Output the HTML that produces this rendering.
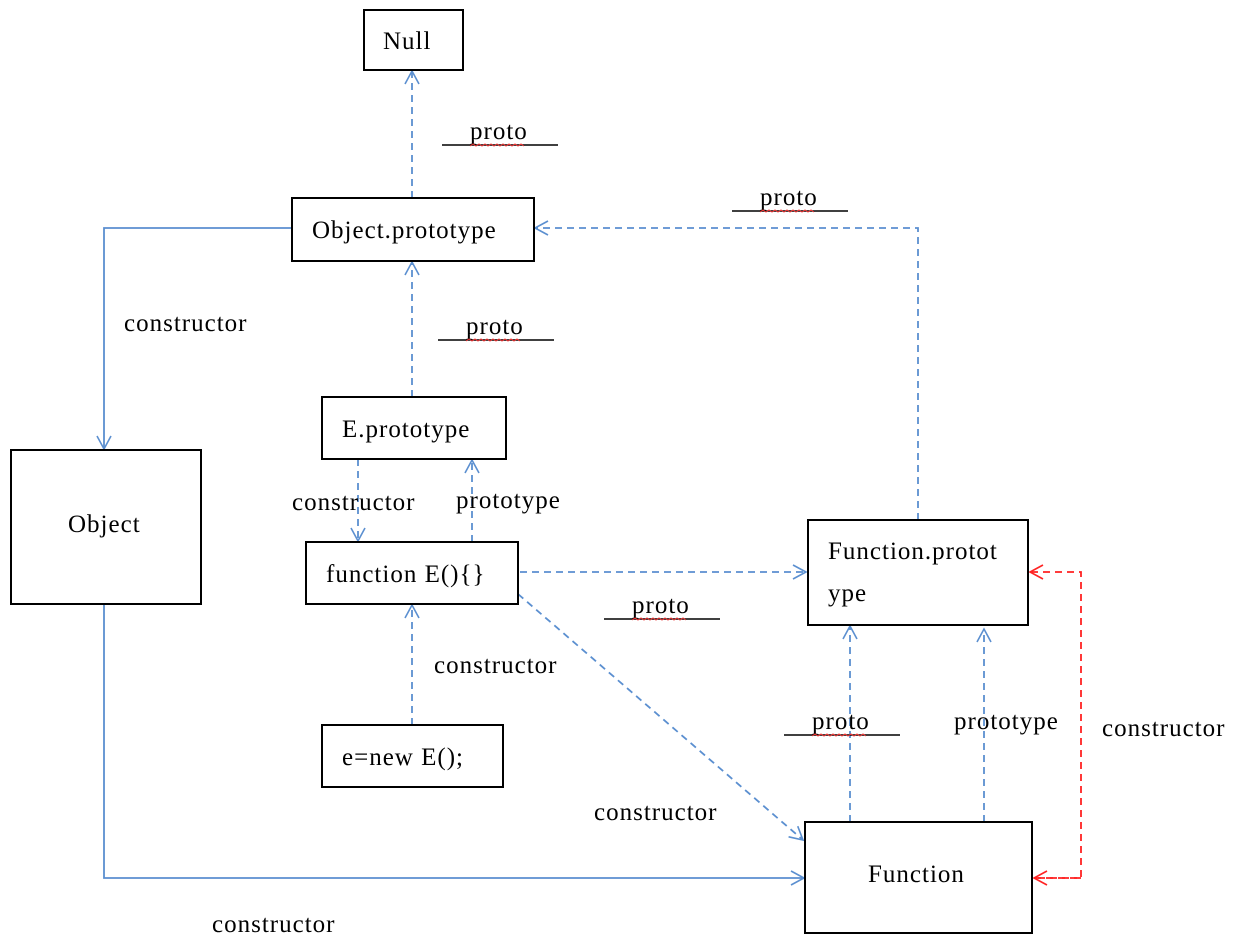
<!DOCTYPE html>
<html><head><meta charset="utf-8"><style>
html,body{margin:0;padding:0;background:#fff;}
svg text{font-family:"Liberation Serif",serif;font-size:25px;letter-spacing:1px;fill:#000;}
</style></head><body>
<svg width="1237" height="941" xmlns="http://www.w3.org/2000/svg">
<defs>
<marker id="a" markerWidth="20" markerHeight="20" refX="14" refY="8" orient="auto" markerUnits="userSpaceOnUse">
<path d="M1,1 L14,8 L1,15" fill="none" stroke="#5b8fd0" stroke-width="1.6"/></marker>
<marker id="r" markerWidth="20" markerHeight="20" refX="14" refY="8" orient="auto" markerUnits="userSpaceOnUse">
<path d="M1,1 L14,8 L1,15" fill="none" stroke="#f22" stroke-width="1.6"/></marker>
</defs>
<g fill="none" stroke="#5b8fd0" stroke-width="1.8">
<g stroke-dasharray="7,5">
<path d="M412,198 V71" marker-end="url(#a)"/>
<path d="M412,397 V262" marker-end="url(#a)"/>
<path d="M918,520 V228 H535" marker-end="url(#a)"/>
<path d="M358,459 V541" marker-end="url(#a)"/>
<path d="M472,542 V460" marker-end="url(#a)"/>
<path d="M520,572 H806" marker-end="url(#a)"/>
<path d="M518,594 L803,840" marker-end="url(#a)"/>
<path d="M412,725 V605" marker-end="url(#a)"/>
<path d="M850,822 V626" marker-end="url(#a)"/>
<path d="M984,822 V629" marker-end="url(#a)"/>
</g>
<path d="M292,228 H104 V449" marker-end="url(#a)"/>
<path d="M104,604 V878 H804" marker-end="url(#a)"/>
</g>
<path d="M1034,878 H1081 V572 H1030" fill="none" stroke="#f22" stroke-width="1.8" stroke-dasharray="7,5" marker-end="url(#r)"/>
<path d="M1081,878 H1034" fill="none" stroke="#f22" stroke-width="1.8" stroke-dasharray="7,5" marker-end="url(#r)"/>
<g fill="#fff" stroke="#000" stroke-width="2">
<rect x="364" y="10" width="99" height="60"/>
<rect x="292" y="198" width="242" height="63"/>
<rect x="322" y="397" width="184" height="62"/>
<rect x="306" y="542" width="212" height="62"/>
<rect x="322" y="725" width="181" height="62"/>
<rect x="11" y="450" width="190" height="154"/>
<rect x="808" y="520" width="220" height="105"/>
<rect x="805" y="822" width="227" height="111"/>
</g>
<text x="383" y="49">Null</text>
<text x="312" y="238">Object.prototype</text>
<text x="342" y="437">E.prototype</text>
<text x="326" y="582">function E(){}</text>
<text x="342" y="765">e=new E();</text>
<text x="68" y="532">Object</text>
<text x="828" y="559">Function.protot</text>
<text x="828" y="601">ype</text>
<text x="868" y="882">Function</text>
<text x="124" y="331">constructor</text>
<text x="292" y="510">constructor</text>
<text x="456" y="508">prototype</text>
<text x="434" y="673">constructor</text>
<text x="594" y="820">constructor</text>
<text x="212" y="932">constructor</text>
<text x="954" y="729">prototype</text>
<text x="1102" y="736">constructor</text>
<g>
<text x="470" y="139">proto</text><path d="M442,145 H558" stroke="#000" stroke-width="1.5"/>
<text x="760" y="205">proto</text><path d="M732,211 H848" stroke="#000" stroke-width="1.5"/>
<text x="466" y="334">proto</text><path d="M438,340 H554" stroke="#000" stroke-width="1.5"/>
<text x="632" y="613">proto</text><path d="M604,619 H720" stroke="#000" stroke-width="1.5"/>
<text x="812" y="729">proto</text><path d="M784,735 H900" stroke="#000" stroke-width="1.5"/>
</g>
<g fill="none" stroke="#e33" stroke-width="1">
<path d="M470,146 l3,-2 l3,2 l3,-2 l3,2 l3,-2 l3,2 l3,-2 l3,2 l3,-2 l3,2 l3,-2 l3,2 l3,-2 l3,2 l3,-2 l3,2 l3,-2 l3,2"/>
<path d="M760,212 l3,-2 l3,2 l3,-2 l3,2 l3,-2 l3,2 l3,-2 l3,2 l3,-2 l3,2 l3,-2 l3,2 l3,-2 l3,2 l3,-2 l3,2 l3,-2 l3,2"/>
<path d="M466,341 l3,-2 l3,2 l3,-2 l3,2 l3,-2 l3,2 l3,-2 l3,2 l3,-2 l3,2 l3,-2 l3,2 l3,-2 l3,2 l3,-2 l3,2 l3,-2 l3,2"/>
<path d="M632,620 l3,-2 l3,2 l3,-2 l3,2 l3,-2 l3,2 l3,-2 l3,2 l3,-2 l3,2 l3,-2 l3,2 l3,-2 l3,2 l3,-2 l3,2 l3,-2 l3,2"/>
<path d="M812,736 l3,-2 l3,2 l3,-2 l3,2 l3,-2 l3,2 l3,-2 l3,2 l3,-2 l3,2 l3,-2 l3,2 l3,-2 l3,2 l3,-2 l3,2 l3,-2 l3,2"/>
</g>
</svg>
</body></html>
